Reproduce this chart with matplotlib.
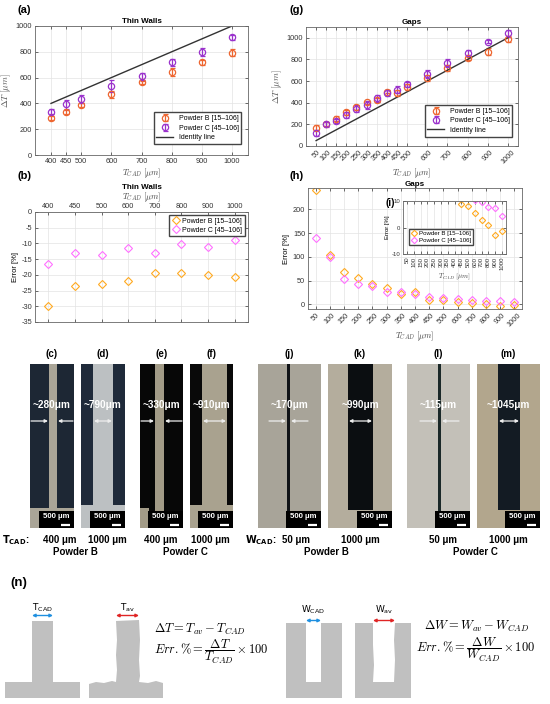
import matplotlib
matplotlib.use('Agg')
import matplotlib.pyplot as plt
from matplotlib.patches import Rectangle, Polygon

plt.rcParams['font.family'] = ['Liberation Sans', 'DejaVu Sans']
plt.rcParams['mathtext.fontset'] = 'cm'
plt.rcParams['axes.unicode_minus'] = False

W, H = 550, 704

# ---------------- data ----------------
tw_tcad = [400, 450, 500, 600, 700, 800, 900, 1000]
tw_B = [284, 336, 388, 470, 563, 646, 718, 793]
tw_B_err = [15, 15, 15, 30, 12, 30, 18, 28]
tw_C = [336, 393, 434, 535, 610, 718, 801, 912]
tw_C_err = [18, 35, 28, 45, 25, 30, 30, 22]
tw_errB = [-30, -23.5, -22.8, -21.8, -19.5, -19.3, -20, -20.8]
tw_errC = [-16.5, -13.2, -13.8, -11.3, -13, -10.3, -11, -8.8]

gap_wcad = [50, 100, 150, 200, 250, 300, 350, 400, 450, 500, 600, 700, 800, 900, 1000]
gap_B = [170, 203, 252, 311, 357, 405, 424, 503, 490, 545, 627, 720, 809, 873, 988]
gap_B_err = [20, 15, 25, 25, 20, 15, 20, 15, 25, 25, 25, 25, 15, 30, 25]
gap_C = [119, 199, 231, 286, 345, 378, 441, 488, 522, 570, 663, 766, 862, 965, 1042]
gap_C_err = [30, 20, 20, 30, 35, 35, 35, 30, 35, 25, 35, 35, 25, 15, 30]
gap_errB = [240, 103, 68, 55.6, 43, 35, 21, 26, 9, 8.2, 5.3, 2.8, 1.1, -2.8, -1.2]
gap_errC = [139, 99, 54, 43, 38, 26, 26, 22, 16, 14, 10.5, 9.5, 7.8, 7.2, 4.2]

labB = 'Powder B [15–106]'
labC = 'Powder C [45–106]'

cB, cC = '#EE6630', '#9A32CC'
cB2, cC2 = '#FFAA22', '#FF70FF'
axc = '#666666'

fig = plt.figure(figsize=(W / 100, H / 100), dpi=100)


def px(x0, y0, x1, y1):
    return [x0 / W, 1 - y1 / H, (x1 - x0) / W, (y1 - y0) / H]


def style(ax, fs=5.3):
    ax.tick_params(direction='in', length=2, width=0.5, labelsize=fs, colors='#333333',
                   pad=2, top=True, right=True)
    for s in ax.spines.values():
        s.set_color(axc)
        s.set_linewidth(0.6)
    ax.grid(True, color='#e3e3e3', lw=0.5)
    ax.set_axisbelow(True)


ebkw = dict(fmt='o', mfc='none', ms=4.5, mew=0.9, elinewidth=0.9, capsize=1.8, capthick=0.9)
legkw = dict(frameon=True, fancybox=False, edgecolor='#444444', framealpha=1)

# ---------------- (a) ----------------
ax = fig.add_axes(px(35, 26, 248, 155))
style(ax)
hB = ax.errorbar(tw_tcad, tw_B, yerr=tw_B_err, mec=cB, ecolor=cB, label=labB, **ebkw)
hC = ax.errorbar(tw_tcad, tw_C, yerr=tw_C_err, mec=cC, ecolor=cC, label=labC, **ebkw)
hI, = ax.plot(tw_tcad, tw_tcad, color='#333333', lw=1, label='Identity line')
ax.set_xlim(347, 1053)
ax.set_ylim(0, 1000)
ax.set_xticks(tw_tcad)
ax.set_yticks(range(0, 1001, 200))
ax.set_xlabel(r'$T_{CAD}\ [\mu m]$', fontsize=6, labelpad=1, color='#444444')
ax.set_ylabel(r'$\Delta T\ [\mu m]$', fontsize=6.5, labelpad=2, color='#555555')
ax.set_title('Thin Walls', fontsize=5.8, fontweight='bold', pad=2)
ax.legend([hB, hC, hI], [labB, labC, 'Identity line'], loc='lower right',
          bbox_to_anchor=(0.985, 0.06), fontsize=5, borderpad=0.4, handlelength=2.4,
          labelspacing=0.35, **legkw)

# ---------------- (b) ----------------
ax = fig.add_axes(px(35, 212, 248, 322))
style(ax)
xb = list(range(1, len(tw_tcad) + 1))
ax.plot(xb, tw_errB, ls='none', marker='D', ms=3.6, mfc='none', mec=cB2, mew=0.8, label=labB)
ax.plot(xb, tw_errC, ls='none', marker='D', ms=3.6, mfc='none', mec=cC2, mew=0.8, label=labC)
ax.set_xlim(0.5, len(tw_tcad) + 0.5)
ax.set_ylim(-35, 0)
ax.set_xticks(xb)
ax.set_xticklabels([str(v) for v in tw_tcad])
ax.set_yticks(range(-35, 1, 5))
ax.xaxis.tick_top()
ax.xaxis.set_label_position('top')
ax.tick_params(bottom=True)
ax.tick_params(axis='x', pad=1.5)
ax.set_xlabel(r'$T_{CAD}\ [\mu m]$', fontsize=6, labelpad=2.5, color='#444444')
ax.set_ylabel('Error [%]', fontsize=5.5, labelpad=2)
ax.set_title('Thin Walls', fontsize=5.8, fontweight='bold', pad=0.5)
ax.legend(loc='upper right', fontsize=5, borderpad=0.3, handlelength=1.2, labelspacing=0.3,
          handletextpad=0.4, **legkw)

# ---------------- (g) ----------------
ax = fig.add_axes(px(306, 27, 518, 146))
style(ax)
hB = ax.errorbar(gap_wcad, gap_B, yerr=gap_B_err, mec=cB, ecolor=cB, label=labB, **ebkw)
hC = ax.errorbar(gap_wcad, gap_C, yerr=gap_C_err, mec=cC, ecolor=cC, label=labC, **ebkw)
hI, = ax.plot(gap_wcad, gap_wcad, color='#333333', lw=1, label='Identity line')
ax.set_xlim(0, 1050)
ax.set_ylim(0, 1100)
ax.set_xticks(gap_wcad)
ax.set_xticklabels([str(v) for v in gap_wcad], rotation=45, ha='center')
ax.set_yticks(range(0, 1001, 200))
ax.set_xlabel(r'$T_{CAD}\ [\mu m]$', fontsize=6, labelpad=1, color='#444444')
ax.set_ylabel(r'$\Delta T\ [\mu m]$', fontsize=6.5, labelpad=2, color='#555555')
ax.set_title('Gaps', fontsize=5.8, fontweight='bold', pad=2)
ax.legend([hB, hC, hI], [labB, labC, 'Identity line'], loc='lower right',
          bbox_to_anchor=(0.99, 0.05), fontsize=5, borderpad=0.4, handlelength=2.4,
          labelspacing=0.35, **legkw)

# ---------------- (h) ----------------
ax = fig.add_axes(px(308, 188, 522, 309))
style(ax)
xh = list(range(1, len(gap_wcad) + 1))
ax.plot(xh, gap_errB, ls='none', marker='D', ms=3.6, mfc='none', mec=cB2, mew=0.8, label=labB)
ax.plot(xh, gap_errC, ls='none', marker='D', ms=3.6, mfc='none', mec=cC2, mew=0.8, label=labC)
ax.set_xlim(0.45, len(gap_wcad) + 0.55)
ax.set_ylim(-10, 245)
ax.set_xticks(xh)
ax.set_xticklabels([str(v) for v in gap_wcad], rotation=45, ha='center')
ax.set_yticks(range(0, 201, 50))
ax.set_xlabel(r'$T_{CAD}\ [\mu m]$', fontsize=6, labelpad=1, color='#444444')
ax.set_ylabel('Error [%]', fontsize=5.5, labelpad=2)
ax.set_title('Gaps', fontsize=5.8, fontweight='bold', pad=1.5)

# ---------------- (i) inset ----------------
ax = fig.add_axes(px(403, 201, 506, 254))
style(ax, fs=4.3)
ax.plot(xh, gap_errB, ls='none', marker='D', ms=3.2, mfc='none', mec=cB2, mew=0.8, label=labB)
ax.plot(xh, gap_errC, ls='none', marker='D', ms=3.2, mfc='none', mec=cC2, mew=0.8, label=labC)
ax.set_xlim(0.4, len(gap_wcad) + 0.6)
ax.set_ylim(-10, 10)
ax.set_xticks(xh)
ax.set_xticklabels([str(v) for v in gap_wcad], rotation=90)
ax.set_yticks([-10, 0, 10])
ax.set_xlabel(r'$T_{CAD}\ [\mu m]$', fontsize=5, labelpad=1, color='#444444')
ax.set_ylabel('Error [%]', fontsize=4.3, labelpad=1)
ax.legend(loc='lower left', bbox_to_anchor=(0.03, 0.12), fontsize=4.4, borderpad=0.3,
          handlelength=1.0, labelspacing=0.2, handletextpad=0.3, **legkw)

# ---------------- overlay (labels, micrographs, schematic) ----------------
ov = fig.add_axes([0, 0, 1, 1])
ov.set_xlim(0, W)
ov.set_ylim(H, 0)
ov.axis('off')

for t, x, y in [('(a)', 17, 10), ('(b)', 17, 176), ('(g)', 290, 10), ('(h)', 290, 176)]:
    ov.text(x, y, t, fontsize=8, fontweight='bold', ha='left', va='center')
ov.text(385, 203, '(i)', fontsize=7, fontweight='bold', ha='left', va='center')

# micrographs
TOP, BOT = 364, 528
micro = [
    dict(tag='(c)', x0=30, x1=74, bg='#1d2734', fg='#aaa597', kind='wall', f0=49, f1=57, base=508, bx1=74, txt='~280μm', wide=False),
    dict(tag='(d)', x0=81, x1=125, bg='#1f2a3a', fg='#bcc0c2', kind='wall', f0=93, f1=113, base=505, bx1=125, txt='~790μm', wide=True),
    dict(tag='(e)', x0=140, x1=183, bg='#070707', fg='#a29b87', kind='wall', f0=155, f1=164, base=508, bx1=149, txt='~330μm', wide=False),
    dict(tag='(f)', x0=190, x1=233, bg='#090909', fg='#a9a28f', kind='wall', f0=202, f1=227, base=505, bx1=233, txt='~910μm', wide=True),
    dict(tag='(j)', x0=258, x1=321, bg='#a8a499', fg='#101317', kind='gap', f0=287, f1=290, base=BOT, bx1=321, txt='~170μm', wide=False),
    dict(tag='(k)', x0=328, x1=392, bg='#b4ad9d', fg='#0b0e11', kind='gap', f0=348, f1=373, base=510, bx1=392, txt='~990μm', wide=True),
    dict(tag='(l)', x0=407, x1=470, bg='#c3c0b8', fg='#1a2828', kind='gap', f0=438, f1=441, base=BOT, bx1=470, txt='~115μm', wide=False),
    dict(tag='(m)', x0=477, x1=540, bg='#b2a68d', fg='#131b23', kind='gap', f0=498, f1=520, base=510, bx1=540, txt='~1045μm', wide=True),
]
for m in micro:
    x0, x1 = m['x0'], m['x1']
    ov.add_patch(Rectangle((x0, TOP), x1 - x0, BOT - TOP, color=m['bg'], lw=0))
    if m['kind'] == 'wall':
        ov.add_patch(Rectangle((m['f0'], TOP), m['f1'] - m['f0'], BOT - TOP, color=m['fg'], lw=0))
        ov.add_patch(Rectangle((x0, m['base']), m['bx1'] - x0, BOT - m['base'], color=m['fg'], lw=0))
    else:
        ov.add_patch(Rectangle((m['f0'], TOP), m['f1'] - m['f0'], m['base'] - TOP, color=m['fg'], lw=0))
    # scale box
    ov.add_patch(Rectangle((x1 - 35, BOT - 17), 35, 17, color='black', lw=0))
    ov.text(x1 - 17.5, BOT - 11, '500 μm', color='white', fontsize=5.6, fontweight='bold',
            ha='center', va='center')
    ov.plot([x1 - 13, x1 - 4], [BOT - 3.5, BOT - 3.5], color='white', lw=1.6, solid_capstyle='butt')
    # tag
    ov.text((x0 + x1) / 2, 354, m['tag'], fontsize=7, fontweight='bold', ha='center', va='center')
    # width label
    ov.text((x0 + x1) / 2, 405, m['txt'], color='white', fontsize=7.2, fontweight='bold',
            ha='center', va='center')
    aprops = dict(color='#eeeeee', lw=0.9, shrinkA=0, shrinkB=0, mutation_scale=4.5)
    if m['wide']:
        ov.annotate('', xy=(m['f1'] - 1, 421), xytext=(m['f0'] + 1, 421),
                    arrowprops=dict(arrowstyle='<|-|>', **aprops))
    else:
        ov.annotate('', xy=(m['f0'] - 1, 421), xytext=(max(x0 + 1, m['f0'] - 18), 421),
                    arrowprops=dict(arrowstyle='-|>', **aprops))
        ov.annotate('', xy=(m['f1'] + 1, 421), xytext=(min(x1 - 1, m['f1'] + 18), 421),
                    arrowprops=dict(arrowstyle='-|>', **aprops))

bfs = 7
ov.text(2, 540, r'$\mathbf{T}_{\mathbf{CAD}}$:', fontsize=bfs, fontweight='bold', ha='left', va='center',
        math_fontfamily='dejavusans')
ov.text(245, 540, r'$\mathbf{W}_{\mathbf{CAD}}$:', fontsize=bfs, fontweight='bold', ha='left', va='center',
        math_fontfamily='dejavusans')
for t, x, y in [('400 μm', 60, 540), ('1000 μm', 107, 540), ('Powder B', 75, 552),
                ('400 μm', 161, 540), ('1000 μm', 210, 540), ('Powder C', 185, 552),
                ('50 μm', 296, 540), ('1000 μm', 360, 540), ('Powder B', 326, 552),
                ('50 μm', 443, 540), ('1000 μm', 508, 540), ('Powder C', 475, 552)]:
    ov.text(x, y, t, fontsize=bfs, fontweight='bold', ha='center', va='center')

ov.text(10, 583, '(n)', fontsize=9.5, fontweight='bold', ha='left', va='center')

# schematic
gray = '#c0c0c0'
blue, red = '#1e8fe0', '#e02424'
ov.add_patch(Rectangle((5, 682), 75, 16, color=gray, lw=0))
ov.add_patch(Rectangle((32, 621), 21, 62, color=gray, lw=0))
ov.add_patch(Polygon([(89, 698), (89, 684), (96, 682), (104, 683), (112, 681), (116, 682),
                      (117, 670), (116, 655), (117, 640), (116, 621), (139, 620), (140, 640),
                      (139, 660), (140, 676), (139, 682), (148, 683), (156, 681), (163, 683),
                      (163, 698)], closed=True, color=gray, lw=0))
ov.add_patch(Rectangle((286, 623), 56, 75, color=gray, lw=0))
ov.add_patch(Rectangle((306, 623), 15, 59, color='white', lw=0))
ov.add_patch(Rectangle((355, 623), 56, 75, color=gray, lw=0))
ov.add_patch(Polygon([(373, 623), (395, 623), (394, 640), (395, 660), (394, 682), (373, 682),
                      (374, 665), (373, 645)], closed=True, color='white', lw=0))
ap = dict(lw=1.0, shrinkA=0, shrinkB=0, mutation_scale=4.5)
ov.annotate('', xy=(53, 615.5), xytext=(32, 615.5), arrowprops=dict(arrowstyle='<|-|>', color=blue, **ap))
ov.annotate('', xy=(139, 615.5), xytext=(116, 615.5), arrowprops=dict(arrowstyle='<|-|>', color=red, **ap))
ov.annotate('', xy=(321, 620.5), xytext=(306, 620.5), arrowprops=dict(arrowstyle='<|-|>', color=blue, **ap))
ov.annotate('', xy=(395, 620.5), xytext=(373, 620.5), arrowprops=dict(arrowstyle='<|-|>', color=red, **ap))
sfs = 6.5
ov.text(42.5, 608, r'$\mathrm{T}_{\mathrm{CAD}}$', fontsize=sfs, ha='center', va='center', math_fontfamily='dejavusans')
ov.text(127.5, 608, r'$\mathrm{T}_{\mathrm{av}}$', fontsize=sfs, ha='center', va='center', math_fontfamily='dejavusans')
ov.text(313.5, 610, r'$\mathrm{W}_{\mathrm{CAD}}$', fontsize=sfs, ha='center', va='center', math_fontfamily='dejavusans')
ov.text(384, 610, r'$\mathrm{W}_{\mathrm{av}}$', fontsize=sfs, ha='center', va='center', math_fontfamily='dejavusans')
efs = 9.0
ov.text(154, 629, r'$\Delta T = T_{av} - T_{CAD}$', fontsize=efs, ha='left', va='center')
ov.text(154, 652, r'$Err.\% = \dfrac{\Delta T}{T_{CAD}} \times 100$', fontsize=efs, ha='left', va='center')
ov.text(424, 626, r'$\Delta W = W_{av} - W_{CAD}$', fontsize=efs, ha='left', va='center')
ov.text(416, 650, r'$Err.\% = \dfrac{\Delta W}{W_{CAD}} \times 100$', fontsize=efs, ha='left', va='center')

fig.savefig('out.png', dpi=100)
